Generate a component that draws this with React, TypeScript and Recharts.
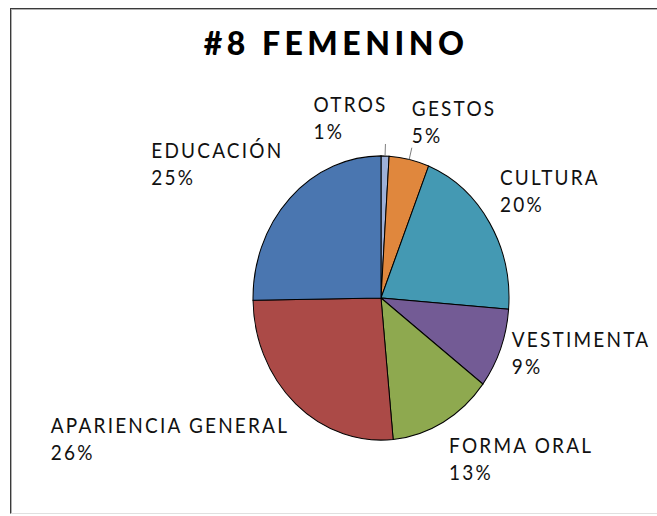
import React from "react";
import { PieChart, Pie, Cell } from "recharts";

document.body.style.margin = "0";

const categories = ["OTROS", "GESTOS", "CULTURA", "VESTIMENTA", "FORMA ORAL", "APARIENCIA GENERAL", "EDUCACIÓN"];
const values = [1, 5, 20, 9, 13, 26, 25];
const colors = ["#9DB0D8", "#E0873D", "#4499B3", "#735B95", "#8EA94F", "#AB4A47", "#4A76B0"];
const TITLE = "#8 FEMENINO";

const data = categories.map((name, i) => ({ name, value: values[i] }));

const W = 657;
const H = 516;
const CX = 381;
const CY = 298;
const RX = 128;
const STRETCH = 1.11; // the original picture is a bit taller than wide
const FONT = "Lato, 'Open Sans', sans-serif";
const FS = 19;
const LS = 2.2;
const LINE = 27;
const CAP = 15;
const PAD = 5;
const GAP = 12;

let ctx: CanvasRenderingContext2D | null = null;
function textWidth(s: string) {
  if (!ctx) ctx = document.createElement("canvas").getContext("2d");
  if (!ctx) return s.length * FS * 0.6;
  ctx.font = `${FS}px Lato`;
  return ctx.measureText(s).width + LS * (s.length - 1);
}

const Tall = ({ x, y, children, style }: any) => (
  <text transform={`translate(${x},${y}) scale(1,${STRETCH})`} style={style}>
    {children}
  </text>
);

const renderLabel = (p: any) => {
  const m = (p.midAngle * Math.PI) / 180;
  const s = Math.cos(m);
  const c = Math.sin(m);
  const rx = p.outerRadius;
  const ry = rx * STRETCH;
  const px = p.cx + rx * s;
  const py = p.cy - ry * c;
  const ax = p.cx + (rx + GAP) * s;
  const ay = p.cy - (ry + GAP) * c;
  const name = p.name ?? p.payload?.name;
  const pct = `${Math.round(p.percent * 100)}%`;
  const w = Math.max(textWidth(name), textWidth(pct));
  const left = s > 0.05 ? ax : ax - w;
  const boxH = PAD + CAP + LINE + PAD;
  const top = Math.abs(c) < 0.5 ? ay - boxH / 2 : c > 0 ? ay - boxH : ay;
  const y1 = top + PAD + CAP;
  const txt = { fontFamily: FONT, fontSize: FS, letterSpacing: LS, fill: "#111" };
  return (
    <g>
      {p.percent < 0.06 && <line x1={px} y1={py} x2={ax} y2={ay} stroke="#7f7f7f" strokeWidth={1} />}
      <Tall x={left} y={y1} style={txt}>{name}</Tall>
      <Tall x={left} y={y1 + LINE} style={txt}>{pct}</Tall>
    </g>
  );
};

export default function App() {
  return (
    <div style={{ position: "relative", width: W, height: H, background: "#fff", overflow: "hidden" }}>
      <style>{`.recharts-pie-sector{transform:scaleY(${STRETCH});transform-origin:${CX}px ${CY}px}`}</style>
      <div
        style={{
          position: "absolute", left: 10, top: 8, width: 660, height: 504,
          borderLeft: "1px solid #3a3a3a", borderTop: "1px solid #3a3a3a", borderBottom: "1px solid #e0e0e0",
          boxShadow: "inset 1px 1px 0 #b0b0b0",
        }}
      />
      <div style={{ position: "absolute", left: 0, top: 0 }}>
        <PieChart width={W} height={H} margin={{ top: 0, right: 0, bottom: 0, left: 0 }}>
          <Pie
            data={data}
            dataKey="value"
            nameKey="name"
            cx={CX}
            cy={CY}
            outerRadius={RX}
            startAngle={90}
            endAngle={-270}
            stroke="#000"
            strokeWidth={1}
            label={renderLabel}
            labelLine={false}
            isAnimationActive={false}
          >
            {data.map((d, i) => (
              <Cell key={d.name} fill={colors[i]} />
            ))}
          </Pie>
        </PieChart>
      </div>
      <svg width={W} height={H} style={{ position: "absolute", left: 0, top: 0, pointerEvents: "none" }}>
        <text
          transform={`translate(336,55)`}
          textAnchor="middle"
          style={{ fontFamily: FONT, fontWeight: 900, fontSize: 32, letterSpacing: 4.5 }}
        >
          {TITLE}
        </text>
      </svg>
    </div>
  );
}
